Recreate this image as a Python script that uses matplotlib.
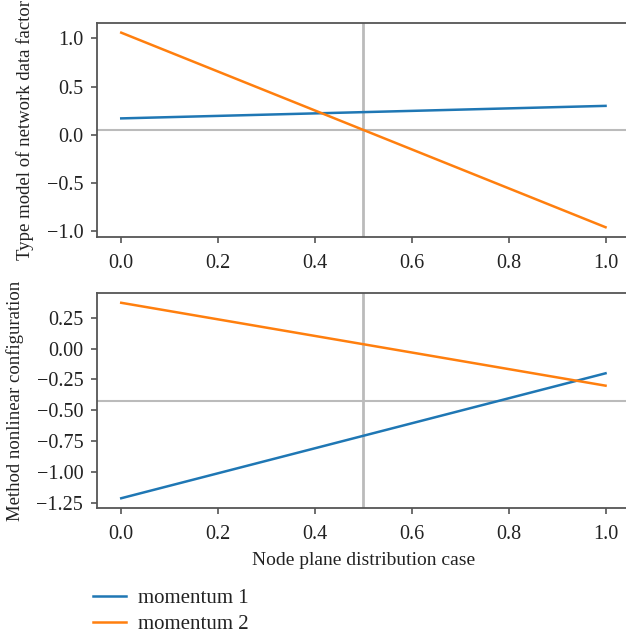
import matplotlib
matplotlib.use("Agg")
import matplotlib.pyplot as plt
import numpy as np

plt.rcParams['font.family'] = ['Liberation Serif', 'DejaVu Serif']
plt.rcParams['font.size'] = 14.5

x = [0.0, 1.0]
top_m1 = [0.17, 0.30]
top_m2 = [1.06, -0.96]
top_hline = 0.05
bot_m1 = [-1.21, -0.20]
bot_m2 = [0.37, -0.30]
bot_hline = -0.42
vline = 0.5
labels = ["momentum 1", "momentum 2"]
ylabels = ["Type model of network data factor", "Method nonlinear configuration"]
xlabel = "Node plane distribution case"
blue = "#1f77b4"
orange = "#ff7f0e"
spine_c = "#555555"

fig = plt.figure(figsize=(6.26, 6.37), dpi=100)
ax1 = fig.add_axes([0.155, 0.628, 0.851, 0.336])
ax2 = fig.add_axes([0.155, 0.2025, 0.851, 0.3375])

for ax, m1, m2, hl, yl in [(ax1, top_m1, top_m2, top_hline, ylabels[0]),
                           (ax2, bot_m1, bot_m2, bot_hline, ylabels[1])]:
    l1, = ax.plot(x, m1, color=blue, lw=1.8, label=labels[0])
    l2, = ax.plot(x, m2, color=orange, lw=1.8, label=labels[1])
    ax.axhline(hl, color="#bbbbbb", lw=1.5, zorder=0)
    ax.axvline(vline, color="#bbbbbb", lw=2, zorder=0)
    ax.set_ylabel(yl, fontsize=13.5, color="#222222")
    for s in ax.spines.values():
        s.set_color(spine_c)
        s.set_linewidth(1.3)
    ax.tick_params(color=spine_c, width=1.2, length=4, labelcolor="#222222",
                   labelsize=14.5)
    ax.tick_params(axis="x", pad=8)
    ax.tick_params(axis="y", pad=6)
    ax.set_xticks([0.0, 0.2, 0.4, 0.6, 0.8, 1.0])

ax1.set_yticks([-1.0, -0.5, 0.0, 0.5, 1.0])
ax2.set_yticks([-1.25, -1.0, -0.75, -0.5, -0.25, 0.0, 0.25])
ax2.set_xlabel(xlabel, fontsize=14, color="#222222", labelpad=6)
ax1.yaxis.set_label_coords(-0.118, 0.5)
ax2.yaxis.set_label_coords(-0.137, 0.5)

leg = fig.legend([l1, l2], labels, loc="lower left", bbox_to_anchor=(0.119, -0.025),
                 frameon=False, handlelength=1.55, handletextpad=0.6,
                 labelspacing=0.3, fontsize=15)
for t in leg.get_texts():
    t.set_color("#222222")

fig.savefig("out.png", dpi=100)
